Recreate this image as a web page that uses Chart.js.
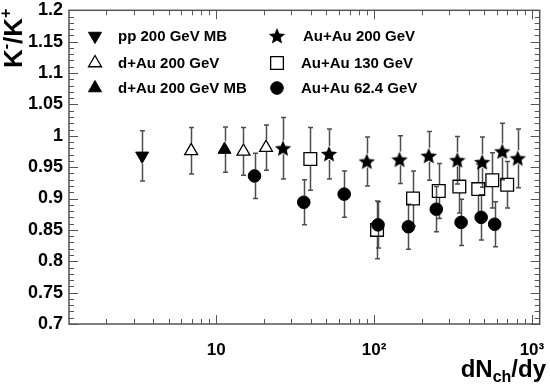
<!DOCTYPE html>
<html>
<head>
<meta charset="utf-8">
<script src="https://cdn.jsdelivr.net/npm/chart.js@4.4.1/dist/chart.umd.min.js"></script>
<style>
  html, body { margin: 0; padding: 0; background: #fff; }
  #wrap { width: 550px; height: 384px; }
</style>
</head>
<body>
<div id="wrap"><canvas id="chart" width="550" height="384"></canvas></div>
<script>
(function () {
    "use strict";

    // axis ticks
    const xTicks = [10, 100, 1000];
    const xTickLabels = ["10", "10²", "10³"];
    const yTicks = [0.7, 0.75, 0.8, 0.85, 0.9, 0.95, 1, 1.05, 1.1, 1.15, 1.2];
    const yTickLabels = ["0.7", "0.75", "0.8", "0.85", "0.9", "0.95", "1", "1.05", "1.1", "1.15", "1.2"];

    const seriesNames = ["pp 200 GeV MB", "d+Au 200 GeV", "d+Au 200 GeV MB", "Au+Au 200 GeV", "Au+Au 130 GeV", "Au+Au 62.4 GeV"];

    // pp 200 GeV MB
    const ppX = [3.4];
    const ppY = [0.968];
    const ppErr = [0.040];

    // d+Au 200 GeV (centrality bins)
    const dAuX = [6.95, 14.9, 20.7];
    const dAuY = [0.976, 0.975, 0.981];
    const dAuErr = [0.037, 0.038, 0.036];

    // d+Au 200 GeV MB
    const dAuMbX = [11.3];
    const dAuMbY = [0.978];
    const dAuMbErr = [0.036];

    // Au+Au 200 GeV
    const au200X = [26.5, 51.9, 90, 145, 222, 337, 484, 649, 813];
    const au200Y = [0.980, 0.971, 0.959, 0.962, 0.968, 0.961, 0.958, 0.975, 0.964];
    const au200Err = [0.049, 0.040, 0.039, 0.038, 0.039, 0.038, 0.040, 0.045, 0.047];

    // Au+Au 130 GeV
    const au130X = [39.5, 104.5, 176.6, 257, 347, 457, 561, 697];
    const au130Y = [0.963, 0.850, 0.900, 0.912, 0.919, 0.915, 0.929, 0.922];
    const au130Err = [0.050, 0.046, 0.044, 0.044, 0.042, 0.040, 0.044, 0.037];

    // Au+Au 62.4 GeV
    const au62X = [17.5, 35.9, 64.7, 106, 165, 248, 356, 477, 581];
    const au62Y = [0.936, 0.894, 0.907, 0.858, 0.855, 0.883, 0.862, 0.870, 0.859];
    const au62Err = [0.036, 0.036, 0.037, 0.037, 0.036, 0.036, 0.037, 0.036, 0.036];

    const FONT = "'Liberation Sans', Arial, Helvetica, sans-serif";
    const AXIS = "#555";

    function points(xs, ys) {
        return xs.map((x, i) => ({ x: x, y: ys[i] }));
    }

    function starImage(r) {
        const size = Math.ceil(r * 2) + 2;
        const c = document.createElement("canvas");
        c.width = size;
        c.height = size;
        const g = c.getContext("2d");
        g.beginPath();
        for (let i = 0; i < 10; i++) {
            const rad = i % 2 ? r * 0.46 : r;
            const a = -Math.PI / 2 + i * Math.PI / 5;
            g.lineTo(size / 2 + rad * Math.cos(a), size / 2 + 0.6 + rad * Math.sin(a));
        }
        g.closePath();
        g.fillStyle = "#000";
        g.fill();
        return c;
    }

    function marker(style, radius, rotation, filled) {
        return {
            pointStyle: style,
            pointRadius: radius,
            pointHoverRadius: radius,
            pointRotation: rotation,
            pointBackgroundColor: filled ? "#000" : "rgba(0,0,0,0)",
            pointBorderColor: "#000",
            pointBorderWidth: filled ? 1 : 1.3
        };
    }

    const star = starImage(8.6);

    const datasets = [
        Object.assign({ label: seriesNames[0], data: points(ppX, ppY), err: ppErr, gap: [4, 8] }, marker("triangle", 7.5, 180, true)),
        Object.assign({ label: seriesNames[1], data: points(dAuX, dAuY), err: dAuErr, gap: [8, 4] }, marker("triangle", 7.5, 0, false)),
        Object.assign({ label: seriesNames[2], data: points(dAuMbX, dAuMbY), err: dAuMbErr, gap: [8, 4] }, marker("triangle", 7.5, 0, true)),
        Object.assign({ label: seriesNames[3], data: points(au200X, au200Y), err: au200Err, gap: [8, 6] }, marker(star, 8.6, 0, true)),
        Object.assign({ label: seriesNames[4], data: points(au130X, au130Y), err: au130Err, gap: [6.5, 6.5] }, marker("rect", 9, 0, false)),
        Object.assign({ label: seriesNames[5], data: points(au62X, au62Y), err: au62Err, gap: [6.5, 6.5], order: -1 }, marker("circle", 6.3, 0, true))
    ];

    const errorBars = {
        id: "errorBars",
        beforeDatasetsDraw(chart) {
            const ctx = chart.ctx;
            const xs = chart.scales.x;
            const ys = chart.scales.y;
            ctx.save();
            ctx.strokeStyle = "#4d4d4d";
            ctx.lineWidth = 1.5;
            chart.data.datasets.forEach(ds => {
                ds.data.forEach((p, i) => {
                    const px = Math.round(xs.getPixelForValue(p.x)) + 0.5;
                    const py = ys.getPixelForValue(p.y);
                    const top = ys.getPixelForValue(p.y + ds.err[i]);
                    const bot = ys.getPixelForValue(p.y - ds.err[i]);
                    ctx.beginPath();
                    ctx.moveTo(px, top);
                    ctx.lineTo(px, py - ds.gap[0]);
                    ctx.moveTo(px, py + ds.gap[1]);
                    ctx.lineTo(px, bot);
                    ctx.moveTo(px - 2.5, top);
                    ctx.lineTo(px + 2.5, top);
                    ctx.moveTo(px - 2.5, bot);
                    ctx.lineTo(px + 2.5, bot);
                    ctx.stroke();
                });
            });
            ctx.restore();
        }
    };

    const frame = {
        id: "frame",
        afterDraw(chart) {
            const ctx = chart.ctx;
            const a = chart.chartArea;
            const xs = chart.scales.x;
            const ys = chart.scales.y;
            ctx.save();
            ctx.strokeStyle = AXIS;
            ctx.lineWidth = 1.5;
            ctx.strokeRect(a.left, a.top, a.right - a.left, a.bottom - a.top);
            ctx.lineWidth = 1;
            ctx.beginPath();
            // y ticks, minor every 0.01
            for (let i = 0; i < yTicks.length; i++) {
                const y = Math.round(ys.getPixelForValue(yTicks[i])) + 0.5;
                ctx.moveTo(a.left, y); ctx.lineTo(a.left + 9, y);
                ctx.moveTo(a.right, y); ctx.lineTo(a.right - 9, y);
                if (i < yTicks.length - 1) {
                    const step = (yTicks[i + 1] - yTicks[i]) / 5;
                    for (let k = 1; k < 5; k++) {
                        const ym = Math.round(ys.getPixelForValue(yTicks[i] + k * step)) + 0.5;
                        ctx.moveTo(a.left, ym); ctx.lineTo(a.left + 5, ym);
                        ctx.moveTo(a.right, ym); ctx.lineTo(a.right - 5, ym);
                    }
                }
            }
            // x ticks, log minor
            [1, 10, 100, 1000].forEach(dec => {
                for (let k = 1; k < 10; k++) {
                    const v = dec * k;
                    if (v < xs.min || v > xs.max) continue;
                    const len = k === 1 ? 9 : 5;
                    const x = Math.round(xs.getPixelForValue(v)) + 0.5;
                    ctx.moveTo(x, a.bottom); ctx.lineTo(x, a.bottom - len);
                    ctx.moveTo(x, a.top); ctx.lineTo(x, a.top + len);
                }
            });
            ctx.stroke();
            ctx.restore();
        }
    };

    function runs(ctx, x, y, parts) {
        parts.forEach(p => {
            ctx.font = "bold " + p.size + "px " + FONT;
            ctx.fillText(p.text, x, y + (p.dy || 0));
            x += ctx.measureText(p.text).width;
        });
    }

    function runsWidth(ctx, parts) {
        return parts.reduce((w, p) => {
            ctx.font = "bold " + p.size + "px " + FONT;
            return w + ctx.measureText(p.text).width;
        }, 0);
    }

    const titles = {
        id: "titles",
        afterDraw(chart) {
            const ctx = chart.ctx;
            ctx.save();
            ctx.fillStyle = "#000";
            ctx.textAlign = "left";
            ctx.textBaseline = "alphabetic";
            const xt = [
                { text: "dN", size: 24 },
                { text: "ch", size: 16, dy: 5 },
                { text: "/dy", size: 24 }
            ];
            runs(ctx, 546 - runsWidth(ctx, xt), 377, xt);
            ctx.translate(22, 68);
            ctx.rotate(-Math.PI / 2);
            runs(ctx, 0, 0, [
                { text: "K", size: 26 },
                { text: "-", size: 16, dy: -11 },
                { text: "/K", size: 26 },
                { text: "+", size: 16, dy: -11 }
            ]);
            ctx.restore();
        }
    };

    const legendBox = {
        id: "legendBox",
        afterDraw(chart) {
            const ctx = chart.ctx;
            const cols = [{ mx: 95, tx: 118 }, { mx: 277, tx: 301 }];
            const rows = [36, 63, 88];
            ctx.save();
            ctx.textAlign = "left";
            ctx.textBaseline = "middle";
            ctx.font = "bold 15px " + FONT;
            chart.data.datasets.forEach((ds, i) => {
                const c = cols[Math.floor(i / 3)];
                const y = rows[i % 3];
                ctx.fillStyle = ds.pointBackgroundColor;
                ctx.strokeStyle = ds.pointBorderColor;
                ctx.lineWidth = ds.pointBorderWidth;
                Chart.helpers.drawPoint(ctx, {
                    pointStyle: ds.pointStyle,
                    radius: ds.pointRadius,
                    rotation: ds.pointRotation,
                    borderWidth: ds.pointBorderWidth
                }, c.mx, y);
                ctx.fillStyle = "#000";
                ctx.fillText(ds.label, c.tx + (i === 3 ? 2 : 0), y + 1);
            });
            ctx.restore();
        }
    };

    new Chart(document.getElementById("chart").getContext("2d"), {
        type: "scatter",
        data: { datasets: datasets },
        plugins: [errorBars, frame, titles, legendBox],
        options: {
            responsive: false,
            animation: false,
            devicePixelRatio: 1,
            layout: { padding: { top: 6, right: 5, left: 0, bottom: 0 } },
            plugins: { legend: { display: false }, tooltip: { enabled: false } },
            scales: {
                x: {
                    type: "logarithmic",
                    min: 1.17,
                    max: 1120,
                    grid: { display: false, drawTicks: false },
                    border: { display: false },
                    afterBuildTicks: scale => { scale.ticks = xTicks.map(v => ({ value: v })); },
                    afterFit: scale => {
                        scale.height = 60;
                        scale.paddingLeft = 0;
                        scale.paddingRight = 0;
                    },
                    ticks: {
                        autoSkip: false,
                        maxRotation: 0,
                        padding: 16,
                        color: "#000",
                        font: { family: FONT, size: 17, weight: "bold" },
                        callback: value => xTickLabels[xTicks.indexOf(value)]
                    }
                },
                y: {
                    min: 0.7,
                    max: 1.2,
                    grid: { display: false, drawTicks: false },
                    border: { display: false },
                    afterBuildTicks: scale => { scale.ticks = yTicks.map(v => ({ value: v })); },
                    afterFit: scale => {
                        scale.width = 69;
                        scale.paddingTop = 0;
                        scale.paddingBottom = 0;
                    },
                    ticks: {
                        padding: 6,
                        color: "#000",
                        font: { family: FONT, size: 18, weight: "bold" },
                        callback: value => yTickLabels[yTicks.indexOf(value)]
                    }
                }
            }
        }
    });
})();
</script>
</body>
</html>
